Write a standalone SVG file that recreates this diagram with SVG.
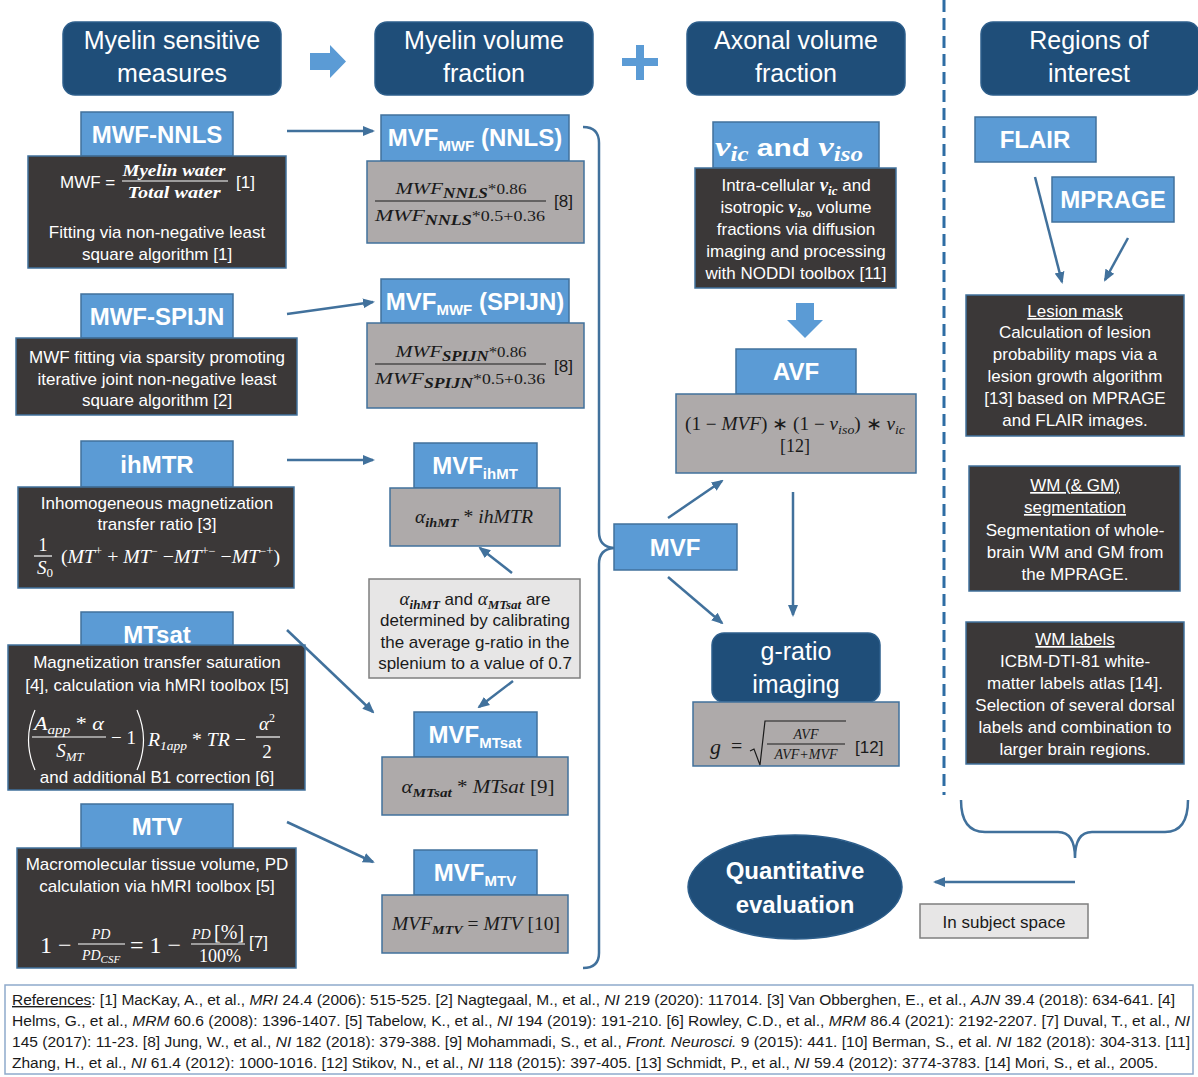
<svg xmlns="http://www.w3.org/2000/svg" width="1198" height="1077" viewBox="0 0 1198 1077">
<defs>
<style>
.hdr{fill:#1F4E79;stroke:#2E5F8C;stroke-width:1.5}
.lb{fill:#5B9BD5;stroke:#41719C;stroke-width:1.5}
.dk{fill:#3B3838;stroke:#41719C;stroke-width:1.5}
.gr{fill:#AEAAAA;stroke:#41719C;stroke-width:1.5}
.cl{fill:#E7E6E6;stroke:#7F7F7F;stroke-width:1.5}
text{font-family:"Liberation Sans",Arial,sans-serif}
.ht{font-size:25px;fill:#fff;text-anchor:middle}
.lt{font-size:24px;font-weight:bold;fill:#fff;text-anchor:middle}
.dt{font-size:17px;fill:#fff;text-anchor:middle}
.bt{font-size:17px;fill:#1a1a1a;text-anchor:middle}
.st{text-anchor:start}
.m{font-family:"Liberation Serif","Times New Roman",serif;font-style:italic}
.u{font-family:"Liberation Serif","Times New Roman",serif;font-style:normal}
.mw{fill:#fff}
.mk{fill:#1a1a1a}
.fw{stroke:#fff;stroke-width:1.2;fill:none}
.fk{stroke:#1a1a1a;stroke-width:1.2;fill:none}
.conn{stroke:#41719C;stroke-width:2.5;fill:none;marker-end:url(#ah)}
.brace{stroke:#41719C;stroke-width:2.5;fill:none}
.blk{fill:#5B9BD5}
.ref{font-size:14px;fill:#1a1a1a}
</style>
<marker id="ah" markerUnits="userSpaceOnUse" markerWidth="12" markerHeight="12" viewBox="0 0 12 12" refX="10" refY="6" orient="auto"><path d="M0,1 L12,6 L0,11 z" fill="#41719C"/></marker>
</defs>
<rect width="1198" height="1077" fill="#fff"/>

<!-- headers -->
<g id="hdr-myelin-sensitive"><rect class="hdr" x="63" y="22" width="218" height="73" rx="12"/><text class="ht" x="172" y="49">Myelin sensitive</text><text class="ht" x="172" y="82">measures</text></g>
<g id="hdr-myelin-volume"><rect class="hdr" x="375" y="22" width="218" height="73" rx="12"/><text class="ht" x="484" y="49">Myelin volume</text><text class="ht" x="484" y="82">fraction</text></g>
<g id="hdr-axonal-volume"><rect class="hdr" x="687" y="22" width="218" height="73" rx="12"/><text class="ht" x="796" y="49">Axonal volume</text><text class="ht" x="796" y="82">fraction</text></g>
<g id="hdr-roi"><rect class="hdr" x="981" y="22" width="218" height="73" rx="12"/><text class="ht" x="1089" y="49">Regions of</text><text class="ht" x="1089" y="82">interest</text></g>
<g id="sym-arrow"><path class="blk" d="M310,53 L330,53 L330,45 L346,61.5 L330,78 L330,70 L310,70 z"/></g>
<g id="sym-plus"><path class="blk" d="M636,45 L644,45 L644,58 L658,58 L658,66 L644,66 L644,80 L636,80 L636,66 L622,66 L622,58 L636,58 z"/></g>
<line x1="944" y1="0" x2="944" y2="795" stroke="#2E6DA4" stroke-width="3" stroke-dasharray="12 6"/>

<!-- left column -->
<g id="mwf-nnls">
<rect class="lb" x="81" y="112" width="152" height="44"/>
<text class="lt" x="157" y="143">MWF-NNLS</text>
<rect class="dk" x="28" y="156" width="258" height="112"/>
<text class="dt st" x="60" y="188">MWF =</text>
<text class="m mw" x="174" y="176" font-size="17" font-weight="bold" text-anchor="middle" textLength="103" lengthAdjust="spacingAndGlyphs">Myelin water</text>
<line class="fw" x1="122" y1="181" x2="228" y2="181"/>
<text class="m mw" x="174" y="198" font-size="17" font-weight="bold" text-anchor="middle" textLength="93" lengthAdjust="spacingAndGlyphs">Total water</text>
<text class="dt st" x="236" y="188">[1]</text>
<text class="dt" x="157" y="238">Fitting via non-negative least</text>
<text class="dt" x="157" y="260">square algorithm [1]</text>
</g>
<g id="mwf-spijn">
<rect class="lb" x="81" y="294" width="152" height="44"/>
<text class="lt" x="157" y="325">MWF-SPIJN</text>
<rect class="dk" x="16" y="338" width="281" height="77"/>
<text class="dt" x="157" y="363">MWF fitting via sparsity promoting</text>
<text class="dt" x="157" y="385">iterative joint non-negative least</text>
<text class="dt" x="157" y="406">square algorithm [2]</text>
</g>
<g id="ihmtr">
<rect class="lb" x="81" y="441" width="152" height="46"/>
<text class="lt" x="157" y="473">ihMTR</text>
<rect class="dk" x="18" y="487" width="276" height="101"/>
<text class="dt" x="157" y="509">Inhomogeneous  magnetization</text>
<text class="dt" x="157" y="530">transfer ratio [3]</text>
<text class="u mw" x="43" y="551" font-size="18" text-anchor="middle">1</text>
<line class="fw" x1="34" y1="556" x2="52" y2="556"/>
<text class="m mw" x="37" y="574" font-size="19">S<tspan class="u" font-size="13" dy="3">0</tspan></text>
<text class="m mw" x="61" y="563" font-size="19" textLength="219" lengthAdjust="spacingAndGlyphs"><tspan class="u">(</tspan>MT<tspan class="u" font-size="12" dy="-8">+</tspan><tspan class="u" dy="8"> + </tspan>MT<tspan class="u" font-size="12" dy="-8">−</tspan><tspan class="u" dy="8"> −</tspan>MT<tspan class="u" font-size="12" dy="-8">+−</tspan><tspan class="u" dy="8"> −</tspan>MT<tspan class="u" font-size="12" dy="-8">−+</tspan><tspan class="u" dy="8">)</tspan></text>
</g>
<g id="mtsat">
<rect class="lb" x="81" y="612" width="152" height="34"/>
<text class="lt" x="157" y="643">MTsat</text>
<rect class="dk" x="8" y="645" width="297" height="145"/>
<text class="dt" x="157" y="668">Magnetization transfer saturation</text>
<text class="dt" x="157" y="691">[4], calculation via hMRI toolbox [5]</text>
<path class="fw" d="M35,710 Q22,740 35,770"/>
<text class="m mw" x="34" y="730" font-size="19" textLength="70" lengthAdjust="spacingAndGlyphs">A<tspan font-size="13" dy="4">app</tspan><tspan class="u" dy="-4"> * </tspan>α</text>
<line class="fw" x1="32" y1="737" x2="106" y2="737"/>
<text class="m mw" x="70" y="757" font-size="19" text-anchor="middle">S<tspan font-size="13" dy="4">MT</tspan></text>
<text class="u mw" x="111" y="744" font-size="19">− 1</text>
<path class="fw" d="M137,710 Q150,740 137,770"/>
<text class="m mw" x="148" y="746" font-size="19" textLength="98" lengthAdjust="spacingAndGlyphs">R<tspan font-size="13" dy="4">1app</tspan><tspan class="u" dy="-4"> * </tspan>TR<tspan class="u"> −</tspan></text>
<text class="m mw" x="267" y="730" font-size="19" text-anchor="middle">α<tspan class="u" font-size="12" dy="-8">2</tspan></text>
<line class="fw" x1="256" y1="737" x2="280" y2="737"/>
<text class="u mw" x="267" y="758" font-size="19" text-anchor="middle">2</text>
<text class="dt" x="157" y="783">and additional B1 correction  [6]</text>
</g>
<g id="mtv">
<rect class="lb" x="81" y="804" width="152" height="44"/>
<text class="lt" x="157" y="835">MTV</text>
<rect class="dk" x="17" y="848" width="279" height="120"/>
<text class="dt" x="157" y="870">Macromolecular  tissue volume, PD</text>
<text class="dt" x="157" y="892">calculation via hMRI toolbox [5]</text>
<text class="u mw" x="40" y="953" font-size="24">1 −</text>
<text class="m mw" x="101" y="939" font-size="14" text-anchor="middle">PD</text>
<line class="fw" x1="78" y1="944" x2="125" y2="944"/>
<text class="m mw" x="101" y="960" font-size="14" text-anchor="middle">PD<tspan font-size="11" dy="3">CSF</tspan></text>
<text class="u mw" x="130" y="953" font-size="24">= 1 −</text>
<text class="m mw" x="218" y="939" font-size="14" text-anchor="middle">PD <tspan class="u" font-size="20">[%]</tspan></text>
<line class="fw" x1="191" y1="944" x2="245" y2="944"/>
<text class="u mw" x="220" y="962" font-size="18" text-anchor="middle">100%</text>
<text class="dt st" x="249" y="948">[7]</text>
</g>

<!-- middle column -->
<g id="mvf-nnls">
<rect class="lb" x="381" y="115" width="188" height="46"/>
<text class="lt" x="475" y="146">MVF<tspan font-size="15" dy="5">MWF</tspan><tspan dy="-5"> (NNLS)</tspan></text>
<rect class="gr" x="367" y="161" width="217" height="82"/>
<text class="m mk" x="461" y="194" font-size="17" text-anchor="middle" textLength="131" lengthAdjust="spacingAndGlyphs">MWF<tspan font-size="14" font-weight="bold" dy="4">NNLS</tspan><tspan class="u" font-size="14" dy="-4">*0.86</tspan></text>
<line class="fk" x1="375" y1="201" x2="546" y2="201"/>
<text class="m mk" x="460" y="221" font-size="17" text-anchor="middle" textLength="170" lengthAdjust="spacingAndGlyphs">MWF<tspan font-size="14" font-weight="bold" dy="4">NNLS</tspan><tspan class="u" font-size="14" dy="-4">*0.5+0.36</tspan></text>
<text class="bt st" x="554" y="207">[8]</text>
</g>
<g id="mvf-spijn">
<rect class="lb" x="381" y="279" width="188" height="44"/>
<text class="lt" x="475" y="310">MVF<tspan font-size="15" dy="5">MWF</tspan><tspan dy="-5"> (SPIJN)</tspan></text>
<rect class="gr" x="367" y="323" width="217" height="85"/>
<text class="m mk" x="461" y="357" font-size="17" text-anchor="middle" textLength="131" lengthAdjust="spacingAndGlyphs">MWF<tspan font-size="14" font-weight="bold" dy="4">SPIJN</tspan><tspan class="u" font-size="14" dy="-4">*0.86</tspan></text>
<line class="fk" x1="375" y1="364" x2="546" y2="364"/>
<text class="m mk" x="460" y="384" font-size="17" text-anchor="middle" textLength="170" lengthAdjust="spacingAndGlyphs">MWF<tspan font-size="14" font-weight="bold" dy="4">SPIJN</tspan><tspan class="u" font-size="14" dy="-4">*0.5+0.36</tspan></text>
<text class="bt st" x="554" y="372">[8]</text>
</g>
<g id="mvf-ihmt">
<rect class="lb" x="414" y="443" width="123" height="45"/>
<text class="lt" x="475" y="474">MVF<tspan font-size="15" dy="5">ihMT</tspan></text>
<rect class="gr" x="390" y="488" width="170" height="58"/>
<text class="m mk" x="474" y="523" font-size="18" text-anchor="middle" textLength="118" lengthAdjust="spacingAndGlyphs">α<tspan font-size="13" font-weight="bold" dy="4">ihMT</tspan><tspan class="u" dy="-4"> * </tspan>ihMTR</text>
</g>
<g id="calibration-note">
<rect class="cl" x="369" y="579" width="211" height="99"/>
<text class="bt" x="475" y="605"><tspan class="m" font-size="19">α</tspan><tspan class="m" font-size="13" font-weight="bold" dy="4">ihMT</tspan><tspan dy="-4"> and </tspan><tspan class="m" font-size="19">α</tspan><tspan class="m" font-size="13" font-weight="bold" dy="4">MTsat</tspan><tspan dy="-4"> are</tspan></text>
<text class="bt" x="475" y="626">determined  by calibrating</text>
<text class="bt" x="475" y="648">the average g-ratio in the</text>
<text class="bt" x="475" y="669">splenium to a value of 0.7</text>
</g>
<g id="mvf-mtsat">
<rect class="lb" x="414" y="712" width="123" height="45"/>
<text class="lt" x="475" y="743">MVF<tspan font-size="15" dy="5">MTsat</tspan></text>
<rect class="gr" x="382" y="757" width="186" height="58"/>
<text class="m mk" x="478" y="793" font-size="18" text-anchor="middle" textLength="153" lengthAdjust="spacingAndGlyphs">α<tspan font-size="13" font-weight="bold" dy="4">MTsat</tspan><tspan class="u" dy="-4"> * </tspan>MTsat<tspan class="u">  [9]</tspan></text>
</g>
<g id="mvf-mtv">
<rect class="lb" x="414" y="850" width="123" height="45"/>
<text class="lt" x="475" y="881">MVF<tspan font-size="15" dy="5">MTV</tspan></text>
<rect class="gr" x="382" y="895" width="186" height="58"/>
<text class="m mk" x="476" y="930" font-size="18" text-anchor="middle" textLength="168" lengthAdjust="spacingAndGlyphs">MVF<tspan font-size="13" font-weight="bold" dy="4">MTV</tspan><tspan class="u" dy="-4"> = </tspan>MTV<tspan class="u">  [10]</tspan></text>
</g>

<!-- axonal column -->
<g id="vic-viso">
<rect class="lb" x="713" y="122" width="166" height="46"/>
<text class="lt" x="789" y="156" textLength="148" lengthAdjust="spacingAndGlyphs"><tspan class="m" font-size="28">v</tspan><tspan class="m" font-size="20" dy="5">ic</tspan><tspan dy="-5"> and </tspan><tspan class="m" font-size="28">v</tspan><tspan class="m" font-size="20" dy="5">iso</tspan></text>
<rect class="dk" x="695" y="168" width="201" height="120"/>
<text class="dt" x="796" y="191">Intra-cellular <tspan class="m" font-weight="bold" font-size="19">v</tspan><tspan class="m" font-weight="bold" font-size="13" dy="4">ic</tspan><tspan dy="-4"> and</tspan></text>
<text class="dt" x="796" y="213">isotropic <tspan class="m" font-weight="bold" font-size="19">v</tspan><tspan class="m" font-weight="bold" font-size="13" dy="4">iso</tspan><tspan dy="-4"> volume</tspan></text>
<text class="dt" x="796" y="235">fractions via diffusion</text>
<text class="dt" x="796" y="257">imaging and processing</text>
<text class="dt" x="796" y="279">with NODDI toolbox [11]</text>
</g>
<g id="sym-down"><path class="blk" d="M796,303 L814,303 L814,320 L823,320 L805,338 L787,320 L796,320 z"/></g>
<g id="avf">
<rect class="lb" x="736" y="349" width="120" height="45"/>
<text class="lt" x="796" y="380">AVF</text>
<rect class="gr" x="676" y="394" width="240" height="79"/>
<text class="u mk" x="795" y="430" font-size="18" text-anchor="middle" textLength="220" lengthAdjust="spacingAndGlyphs">(1 − <tspan class="m">MVF</tspan>) ∗ (1 − <tspan class="m">v</tspan><tspan class="m" font-size="13" dy="4">iso</tspan><tspan dy="-4">) ∗ </tspan><tspan class="m">v</tspan><tspan class="m" font-size="13" dy="4">ic</tspan></text>
<text class="u mk" x="795" y="452" font-size="18" text-anchor="middle">[12]</text>
</g>
<g id="mvf">
<rect class="lb" x="614" y="524" width="123" height="46"/>
<text class="lt" x="675" y="556">MVF</text>
</g>
<g id="g-ratio">
<rect x="712" y="633" width="168" height="69" rx="12" fill="#1F4E79" stroke="#2E5F8C" stroke-width="1.5"/>
<text class="ht" x="796" y="660">g-ratio</text>
<text class="ht" x="796" y="693">imaging</text>
<rect class="gr" x="693" y="702" width="206" height="64"/>
<text class="m mk" x="710" y="754" font-size="22">g</text>
<text class="u mk" x="731" y="753" font-size="20">=</text>
<path class="fk" d="M750,751 L754,749 L760,765 L765,721 L846,721"/>
<text class="m mk" x="806" y="739" font-size="14" text-anchor="middle">AVF</text>
<line class="fk" x1="767" y1="744" x2="845" y2="744"/>
<text class="m mk" x="806" y="759" font-size="14" text-anchor="middle">AVF+MVF</text>
<text class="bt st" x="855" y="753">[12]</text>
</g>
<g id="quantitative">
<ellipse cx="795" cy="887" rx="107" ry="52" fill="#1F4E79" stroke="#2E5F8C" stroke-width="1.5"/>
<text class="lt" x="795" y="879">Quantitative</text>
<text class="lt" x="795" y="913">evaluation</text>
</g>
<g id="subject-space">
<rect class="cl" x="920" y="904" width="168" height="34"/>
<text class="bt" x="1004" y="928" font-size="18">In subject space</text>
</g>

<!-- ROI column -->
<g id="flair"><rect class="lb" x="975" y="117" width="121" height="45"/><text class="lt" x="1035" y="148">FLAIR</text></g>
<g id="mprage"><rect class="lb" x="1052" y="177" width="122" height="45"/><text class="lt" x="1113" y="208">MPRAGE</text></g>
<g id="lesion-mask">
<rect class="dk" x="966" y="295" width="218" height="141"/>
<text class="dt" x="1075" y="317" text-decoration="underline">Lesion mask</text>
<text class="dt" x="1075" y="338">Calculation of lesion</text>
<text class="dt" x="1075" y="360">probability maps via a</text>
<text class="dt" x="1075" y="382">lesion growth  algorithm</text>
<text class="dt" x="1075" y="404">[13] based on MPRAGE</text>
<text class="dt" x="1075" y="426">and FLAIR images.</text>
</g>
<g id="wm-segmentation">
<rect class="dk" x="969" y="466" width="211" height="125"/>
<text class="dt" x="1075" y="491" text-decoration="underline">WM (&amp; GM)</text>
<text class="dt" x="1075" y="513" text-decoration="underline">segmentation</text>
<text class="dt" x="1075" y="536">Segmentation of whole-</text>
<text class="dt" x="1075" y="558">brain WM and GM from</text>
<text class="dt" x="1075" y="580">the MPRAGE.</text>
</g>
<g id="wm-labels">
<rect class="dk" x="966" y="622" width="218" height="142"/>
<text class="dt" x="1075" y="645" text-decoration="underline">WM labels</text>
<text class="dt" x="1075" y="667">ICBM-DTI-81 white-</text>
<text class="dt" x="1075" y="689">matter labels atlas [14].</text>
<text class="dt" x="1075" y="711">Selection of several dorsal</text>
<text class="dt" x="1075" y="733">labels and combination to</text>
<text class="dt" x="1075" y="755">larger brain regions.</text>
</g>

<!-- connectors -->
<g id="connectors">
<path class="conn" d="M287,131 L373,131"/>
<path class="conn" d="M287,314 L373,302"/>
<path class="conn" d="M287,460 L373,460"/>
<path class="conn" d="M287,630 L373,712"/>
<path class="conn" d="M287,822 L373,862"/>
<path class="conn" d="M512,573 L480,548"/>
<path class="conn" d="M513,681 L479,707"/>
<path class="brace" d="M583,127 Q599,127 599,143 L599,532 Q599,547 614,548 Q599,549 599,564 L599,953 Q599,968 583,968"/>
<path class="conn" d="M668,518 L722,481"/>
<path class="conn" d="M668,577 L722,623"/>
<path class="conn" d="M793,492 L793,615"/>
<path class="conn" d="M1035,177 L1062,282"/>
<path class="conn" d="M1128,238 L1105,280"/>
<path class="brace" d="M961,800 Q961,832 985,832 L1058,832 Q1075,832 1075,858 Q1075,832 1092,832 L1165,832 Q1188,832 1188,800"/>
<path class="conn" d="M1075,882 L935,882"/>
</g>

<!-- references -->
<g id="references">
<rect x="5" y="985" width="1188" height="89" fill="#fff" stroke="#8FAACC" stroke-width="1.5"/>
<text class="ref" x="12" y="1005" textLength="1163" lengthAdjust="spacingAndGlyphs"><tspan text-decoration="underline">References</tspan>: [1] MacKay, A., et al., <tspan font-style="italic">MRI</tspan> 24.4 (2006): 515-525.  [2] Nagtegaal, M., et al., <tspan font-style="italic">NI</tspan> 219 (2020): 117014.  [3] Van Obberghen, E., et al., <tspan font-style="italic">AJN</tspan> 39.4 (2018): 634-641.  [4]</text>
<text class="ref" x="12" y="1026" textLength="1178" lengthAdjust="spacingAndGlyphs">Helms, G., et al., <tspan font-style="italic">MRM</tspan> 60.6 (2008): 1396-1407.  [5] Tabelow, K., et al., <tspan font-style="italic">NI</tspan> 194 (2019): 191-210.  [6] Rowley, C.D., et al., <tspan font-style="italic">MRM</tspan> 86.4 (2021): 2192-2207.  [7] Duval, T., et al., <tspan font-style="italic">NI</tspan></text>
<text class="ref" x="12" y="1047" textLength="1178" lengthAdjust="spacingAndGlyphs">145 (2017): 11-23.  [8] Jung, W., et al., <tspan font-style="italic">NI</tspan> 182 (2018): 379-388.  [9] Mohammadi, S., et al., <tspan font-style="italic">Front. Neurosci.</tspan> 9 (2015): 441.  [10] Berman, S., et al. <tspan font-style="italic">NI</tspan> 182 (2018): 304-313.  [11]</text>
<text class="ref" x="12" y="1068" textLength="1146" lengthAdjust="spacingAndGlyphs">Zhang, H., et al., <tspan font-style="italic">NI</tspan> 61.4 (2012): 1000-1016.  [12] Stikov, N., et al., <tspan font-style="italic">NI</tspan> 118 (2015): 397-405.  [13] Schmidt, P., et al., <tspan font-style="italic">NI</tspan> 59.4 (2012): 3774-3783.  [14] Mori, S., et al., 2005.</text>
</g>
</svg>
